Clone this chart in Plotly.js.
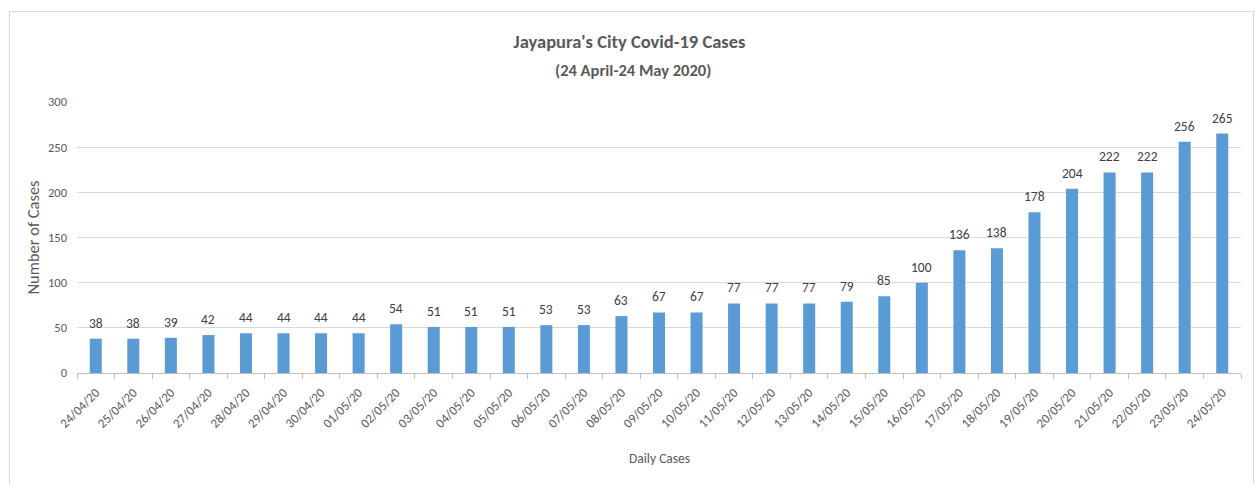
<!DOCTYPE html>
<html><head><meta charset="utf-8">
<script src="https://cdn.plot.ly/plotly-3.0.1.min.js"></script>
<style>
body{margin:0;background:#fff;}
#wrap{position:relative;width:1259px;height:484px;}
#chart{width:1259px;height:484px;}
#border{position:absolute;left:9px;top:11px;width:1245px;height:480px;border:1px solid #d9d9d9;pointer-events:none;box-sizing:border-box;}
</style>
</head><body>
<div id="wrap"><div id="chart"></div><div id="border"></div></div>
<script>
const dates = ["24/04/20","25/04/20","26/04/20","27/04/20","28/04/20","29/04/20","30/04/20","01/05/20","02/05/20","03/05/20","04/05/20","05/05/20","06/05/20","07/05/20","08/05/20","09/05/20","10/05/20","11/05/20","12/05/20","13/05/20","14/05/20","15/05/20","16/05/20","17/05/20","18/05/20","19/05/20","20/05/20","21/05/20","22/05/20","23/05/20","24/05/20"];
const cases = [38,38,39,42,44,44,44,44,54,51,51,51,53,53,63,67,67,77,77,77,79,85,100,136,138,178,204,222,222,256,265];
const yTicks = [0,50,100,150,200,250,300];

const font = "Carlito, 'Liberation Sans Narrow', 'Open Sans', sans-serif";
const plotTop = 102, plotBottom = 373, plotH = plotBottom - plotTop;
const bars = {
  type: 'bar', x: dates, y: cases,
  marker: {color: '#5B9BD5'},
  hoverinfo: 'x+y'
};
const valueLabels = dates.map((d, i) => ({
  x: d, y: cases[i], xref: 'x', yref: 'y', text: String(cases[i]),
  showarrow: false, xanchor: 'center', yanchor: 'bottom', yshift: 5,
  font: {family: font, size: 13.5, color: '#404040'}
}));
const layout = {
  width: 1259, height: 484,
  margin: {l: 77, r: 18, t: plotTop, b: 484 - plotBottom},
  paper_bgcolor: '#fff', plot_bgcolor: '#fff',
  bargap: 0.68,
  showlegend: false,
  font: {family: font, color: '#595959'},
  title: {text: "<b>Jayapura's City Covid-19 Cases</b>", x: 0.5, xanchor: 'center', y: 1 - 42/484, yanchor: 'middle', yref: 'container', font: {family: font, size: 18.5, color: '#595959'}},
  annotations: [
    {text: "<b>(24 April-24 May 2020)</b>", xref: 'paper', yref: 'paper', x: (633-77)/1164, y: 1 + (plotTop-70)/plotH, xanchor: 'center', yanchor: 'middle', showarrow: false, font: {family: font, size: 16.5, color: '#595959'}},
    {text: "Daily Cases", xref: 'paper', yref: 'paper', x: (659-77)/1164, y: -(458-plotBottom)/plotH, xanchor: 'center', yanchor: 'middle', showarrow: false, font: {family: font, size: 13.5, color: '#595959'}}
  ].concat(valueLabels),
  xaxis: {
    type: 'category', tickangle: -45, tickson: 'boundaries',
    range: [-0.5, dates.length - 0.5],
    ticks: 'outside', ticklen: 5, tickcolor: '#bfbfbf',
    showline: true, linecolor: '#bfbfbf', showgrid: false,
    ticklabelstandoff: 6,
    tickfont: {family: font, size: 13, color: '#595959'},
    automargin: false
  },
  yaxis: {
    range: [0, 300], tickvals: yTicks, showgrid: true, gridcolor: '#d9d9d9', zeroline: false,
    showline: false, ticks: '', ticklabelstandoff: 9, tickfont: {family: font, size: 12.5, color: '#595959'},
    title: {text: 'Number of Cases', font: {family: font, size: 16.5, color: '#595959'}, standoff: 4},
    automargin: false
  }
};
Plotly.newPlot('chart', [bars], layout, {displayModeBar: false, staticPlot: true});
</script>
</body></html>
